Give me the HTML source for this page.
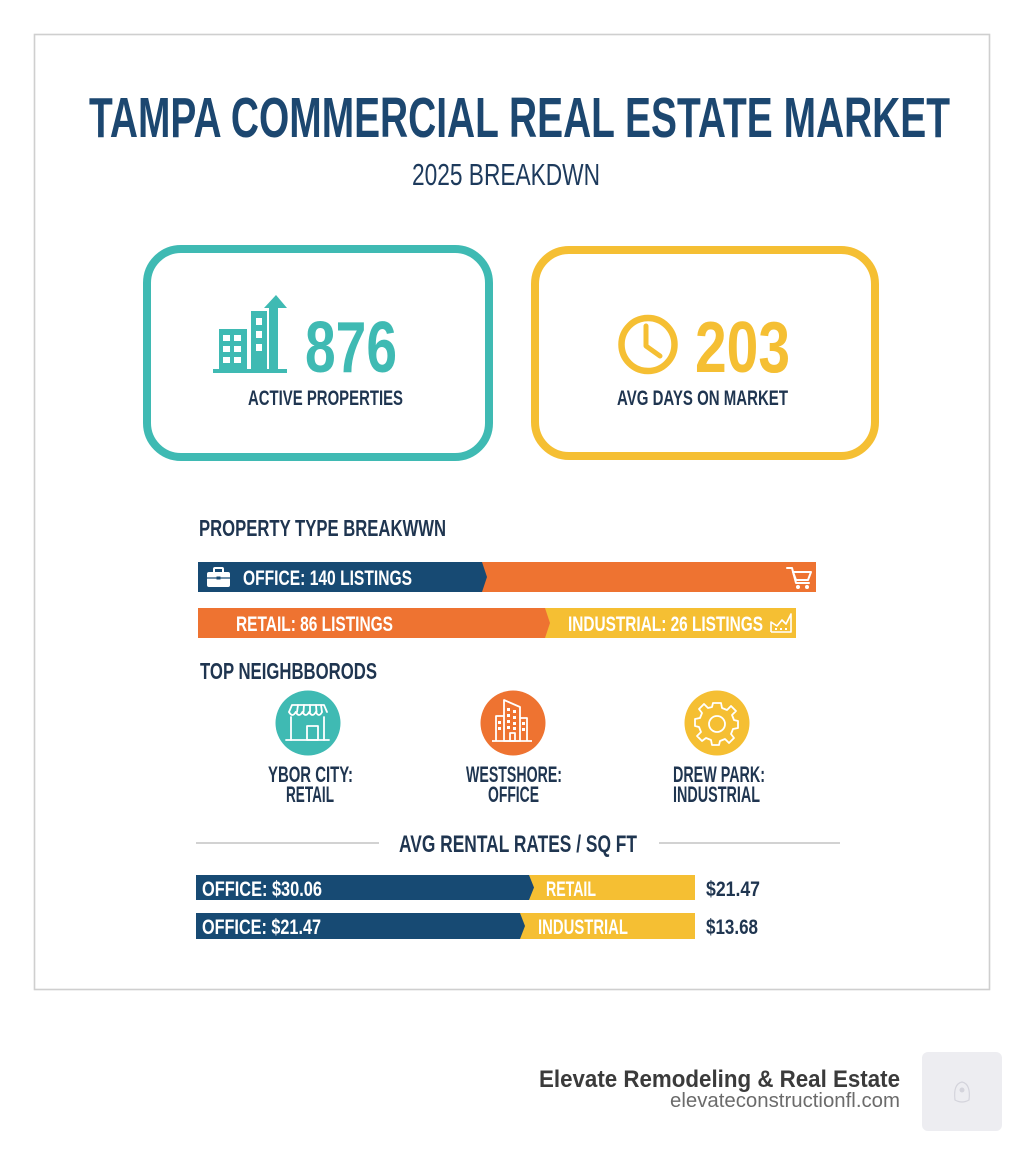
<!DOCTYPE html>
<html>
<head>
<meta charset="utf-8">
<style>
  html,body{margin:0;padding:0;background:#fff;}
  svg{display:block;}
  .c{font-family:"Liberation Sans Narrow","Liberation Sans",Arial,sans-serif;font-weight:bold;}
  .r{font-family:"Liberation Sans",Arial,sans-serif;}
</style>
</head>
<body>
<svg width="1024" height="1154" viewBox="0 0 1024 1154" xmlns="http://www.w3.org/2000/svg">
  <rect x="0" y="0" width="1024" height="1154" fill="#ffffff"/>
  <!-- frame -->
  <rect x="34.5" y="34.5" width="955" height="955" fill="#ffffff" stroke="#cfcfcf" stroke-width="1.6"/>

  <!-- title -->
  <text class="c" x="89" y="137" font-size="57" fill="#1c4770" textLength="861" lengthAdjust="spacingAndGlyphs">TAMPA COMMERCIAL REAL ESTATE MARKET</text>
  <text class="r" x="412" y="185" font-size="31" fill="#1d3a5c" textLength="188" lengthAdjust="spacingAndGlyphs" style="font-family:'Liberation Sans Narrow','Liberation Sans',Arial,sans-serif">2025 BREAKDWN</text>

  <!-- teal box -->
  <rect x="147" y="249" width="342" height="208" rx="34" fill="none" stroke="#3fbab3" stroke-width="8"/>
  <!-- building icon -->
  <g fill="#3fbab3">
    <rect x="213" y="369" width="74" height="4"/>
    <rect x="219" y="329" width="28" height="41"/>
    <rect x="251" y="311" width="16" height="59"/>
    <rect x="269" y="306" width="9" height="64"/>
    <polygon points="264,308 276,295 287,308"/>
  </g>
  <g fill="#ffffff">
    <rect x="223" y="335" width="7" height="6"/><rect x="234" y="335" width="7" height="6"/>
    <rect x="223" y="346" width="7" height="6"/><rect x="234" y="346" width="7" height="6"/>
    <rect x="223" y="357" width="7" height="6"/><rect x="234" y="357" width="7" height="6"/>
    <rect x="256" y="318" width="6" height="7"/>
    <rect x="256" y="331" width="6" height="7"/>
    <rect x="256" y="344" width="6" height="7"/>
  </g>
  <text class="c" x="305" y="372" font-size="72" fill="#3fbab3" textLength="92" lengthAdjust="spacingAndGlyphs">876</text>
  <text class="c" x="248" y="405" font-size="21" fill="#1f3550" textLength="155" lengthAdjust="spacingAndGlyphs">ACTIVE PROPERTIES</text>

  <!-- yellow box -->
  <rect x="535" y="250" width="340" height="206" rx="34" fill="none" stroke="#f5bf33" stroke-width="8"/>
  <circle cx="648" cy="344.5" r="26.5" fill="none" stroke="#f5bf33" stroke-width="6.5"/>
  <polyline points="646,326 646,346 660,356" fill="none" stroke="#f5bf33" stroke-width="5" stroke-linecap="round" stroke-linejoin="round"/>
  <text class="c" x="695" y="372" font-size="72" fill="#f5bf33" textLength="95" lengthAdjust="spacingAndGlyphs">203</text>
  <text class="c" x="617" y="405" font-size="21" fill="#1f3550" textLength="171" lengthAdjust="spacingAndGlyphs">AVG DAYS ON MARKET</text>

  <!-- property type breakdown -->
  <text class="c" x="199" y="536" font-size="23" fill="#1f3550" textLength="247" lengthAdjust="spacingAndGlyphs">PROPERTY TYPE BREAKWWN</text>

  <rect x="198" y="562" width="618" height="30" fill="#ee7331"/>
  <polygon points="198,562 482,562 487,577 482,592 198,592" fill="#174a73"/>
  <!-- briefcase -->
  <g fill="#ffffff">
    <rect x="207" y="572" width="23" height="15" rx="2"/>
    <rect x="214" y="568" width="9" height="5" rx="1" fill="none" stroke="#ffffff" stroke-width="2"/>
  </g>
  <line x1="207" y1="578" x2="230" y2="578" stroke="#174a73" stroke-width="1.2"/>
  <rect x="216.5" y="576.5" width="4" height="3" fill="#174a73"/>
  <text class="c" x="243" y="585" font-size="21" fill="#ffffff" textLength="169" lengthAdjust="spacingAndGlyphs">OFFICE: 140 LISTINGS</text>
  <!-- cart -->
  <g fill="none" stroke="#ffffff" stroke-width="2" stroke-linejoin="round" stroke-linecap="round">
    <polyline points="787,568 792,568 796,583 809,583"/>
    <polygon points="793,572 811,572 808,580 796,580"/>
  </g>
  <circle cx="798" cy="587" r="2" fill="#fff"/><circle cx="807" cy="587" r="2" fill="#fff"/>

  <rect x="545" y="608" width="251" height="30" fill="#f5bf33"/>
  <polygon points="198,608 545,608 550,623 545,638 198,638" fill="#ee7331"/>
  <text class="c" x="236" y="631" font-size="21" fill="#ffffff" textLength="157" lengthAdjust="spacingAndGlyphs">RETAIL: 86 LISTINGS</text>
  <text class="c" x="568" y="631" font-size="21" fill="#ffffff" textLength="195" lengthAdjust="spacingAndGlyphs">INDUSTRIAL: 26 LISTINGS</text>
  <!-- factory -->
  <g fill="none" stroke="#ffffff" stroke-width="1.6" stroke-linejoin="round">
    <polyline points="771,632 771,622 777,626 782,620 786,624 791,614 791,632 771,632"/>
  </g>
  <g fill="#fff"><rect x="775" y="628" width="2" height="2"/><rect x="780" y="628" width="2" height="2"/><rect x="785" y="628" width="2" height="2"/></g>

  <!-- top neighborhoods -->
  <text class="c" x="200" y="679" font-size="23" fill="#1f3550" textLength="177" lengthAdjust="spacingAndGlyphs">TOP NEIGHBBORODS</text>

  <circle cx="308" cy="723" r="32.5" fill="#3fbab3"/>
  <g fill="none" stroke="#ffffff" stroke-width="1.8" stroke-linejoin="round" stroke-linecap="round">
    <polyline points="289,712 292,705 324,705 327,712"/>
    <path d="M289,712 q3.4,6 6.7,0 q3.4,6 6.7,0 q3.4,6 6.7,0 q3.4,6 6.7,0 q3.2,6 6.2,0"/>
    <line x1="298" y1="705" x2="297" y2="712"/><line x1="304" y1="705" x2="303.5" y2="712"/><line x1="310" y1="705" x2="310" y2="712"/><line x1="316" y1="705" x2="316.5" y2="712"/><line x1="321" y1="705" x2="322" y2="712"/>
    <line x1="291" y1="717" x2="291" y2="740"/><line x1="324" y1="717" x2="324" y2="740"/>
    <line x1="286" y1="740" x2="329" y2="740"/>
    <rect x="307" y="726" width="11" height="14"/>
  </g>

  <circle cx="513" cy="723" r="32.5" fill="#ee7331"/>
  <g fill="none" stroke="#ffffff" stroke-width="1.8" stroke-linejoin="round">
    <polygon points="504,741 504,700 520,707 520,741"/>
    <polyline points="504,716 496,716 496,741"/>
    <polyline points="520,718 527,718 527,741"/>
    <line x1="492" y1="741" x2="532" y2="741"/>
    <rect x="510" y="733" width="5" height="8"/>
  </g>
  <g fill="#ffffff">
    <rect x="507" y="708" width="3" height="3"/><rect x="513" y="710" width="3" height="3"/>
    <rect x="507" y="714" width="3" height="3"/><rect x="513" y="716" width="3" height="3"/>
    <rect x="507" y="720" width="3" height="3"/><rect x="513" y="722" width="3" height="3"/>
    <rect x="507" y="726" width="3" height="3"/><rect x="513" y="727" width="3" height="3"/>
    <rect x="498" y="721" width="3" height="3"/><rect x="498" y="727" width="3" height="3"/>
    <rect x="522" y="722" width="3" height="3"/><rect x="522" y="728" width="3" height="3"/>
  </g>

  <circle cx="717" cy="723" r="32.5" fill="#f5bf33"/>
  <g transform="translate(717,723)" fill="none" stroke="#ffffff" stroke-width="1.8" stroke-linejoin="round">
    <path d="M-4,-20 L4,-20 L5,-15 L10,-13 L14,-17 L19,-12 L15,-8 L17,-3 L21,-2 L21,5 L16,6 L14,11 L17,15 L12,20 L8,16 L3,18 L2,22 L-5,22 L-6,17 L-11,15 L-15,18 L-20,13 L-16,9 L-18,4 L-22,3 L-22,-4 L-17,-5 L-15,-10 L-18,-14 L-13,-19 L-9,-15 L-5,-16 Z"/>
    <circle cx="0" cy="1" r="8"/>
  </g>

  <g class="c" font-size="22" fill="#1f3550">
    <text x="268" y="782" textLength="85" lengthAdjust="spacingAndGlyphs">YBOR CITY:</text>
    <text x="286" y="802" textLength="48" lengthAdjust="spacingAndGlyphs">RETAIL</text>
    <text x="466" y="782" textLength="96" lengthAdjust="spacingAndGlyphs">WESTSHORE:</text>
    <text x="488" y="802" textLength="51" lengthAdjust="spacingAndGlyphs">OFFICE</text>
    <text x="673" y="782" textLength="92" lengthAdjust="spacingAndGlyphs">DREW PARK:</text>
    <text x="673" y="802" textLength="87" lengthAdjust="spacingAndGlyphs">INDUSTRIAL</text>
  </g>

  <!-- avg rental rates -->
  <line x1="196" y1="843" x2="379" y2="843" stroke="#d2d2d2" stroke-width="2"/>
  <line x1="659" y1="843" x2="840" y2="843" stroke="#d2d2d2" stroke-width="2"/>
  <text class="c" x="399" y="852" font-size="24" fill="#1f3550" textLength="238" lengthAdjust="spacingAndGlyphs">AVG RENTAL RATES / SQ FT</text>

  <rect x="196" y="875" width="499" height="25" fill="#f5bf33"/>
  <polygon points="196,875 529,875 534,887.5 529,900 196,900" fill="#174a73"/>
  <text class="c" x="202" y="896" font-size="21" fill="#ffffff" textLength="120" lengthAdjust="spacingAndGlyphs">OFFICE: $30.06</text>
  <text class="c" x="546" y="896" font-size="21" fill="#ffffff" textLength="50" lengthAdjust="spacingAndGlyphs">RETAIL</text>
  <text class="c" x="706" y="896" font-size="21" fill="#1f3550" textLength="54" lengthAdjust="spacingAndGlyphs">$21.47</text>

  <rect x="196" y="913" width="499" height="26" fill="#f5bf33"/>
  <polygon points="196,913 520,913 525,926 520,939 196,939" fill="#174a73"/>
  <text class="c" x="202" y="934" font-size="21" fill="#ffffff" textLength="119" lengthAdjust="spacingAndGlyphs">OFFICE: $21.47</text>
  <text class="c" x="538" y="934" font-size="21" fill="#ffffff" textLength="90" lengthAdjust="spacingAndGlyphs">INDUSTRIAL</text>
  <text class="c" x="706" y="934" font-size="21" fill="#1f3550" textLength="52" lengthAdjust="spacingAndGlyphs">$13.68</text>

  <!-- footer -->
  <text class="r" x="539" y="1087" font-size="24" font-weight="bold" fill="#3b3b3b" textLength="361" lengthAdjust="spacingAndGlyphs">Elevate Remodeling &amp; Real Estate</text>
  <text class="r" x="670" y="1107" font-size="20" fill="#6b6b6b" textLength="230" lengthAdjust="spacingAndGlyphs">elevateconstructionfl.com</text>
  <rect x="922" y="1052" width="80" height="79" rx="6" fill="#ededf1"/>
  <g fill="none" stroke="#d4d4dc" stroke-width="1.2">
    <path d="M955,1100 q-2,-16 7,-18 q9,2 7,18 q-7,4 -14,0 Z"/>
  </g>
  <circle cx="962" cy="1090" r="2.5" fill="#d4d4dc"/>
</svg>
</body>
</html>
